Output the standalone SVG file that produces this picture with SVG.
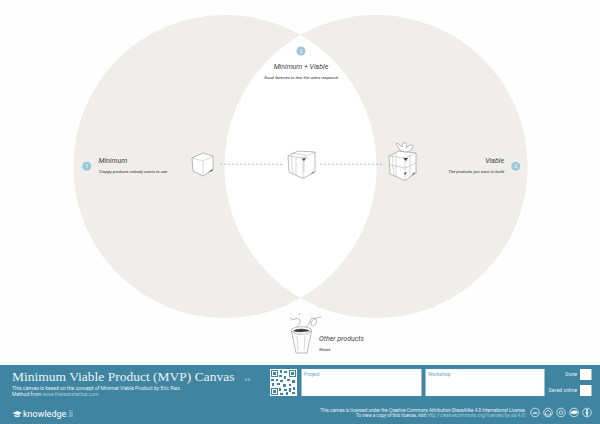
<svg xmlns="http://www.w3.org/2000/svg" width="600" height="424" viewBox="0 0 600 424">
<style>
.r{font-family:Roboto,"Liberation Sans",sans-serif}
.h{font-size:7px;font-style:italic;font-weight:400;fill:#444}
.s{font-size:4.2px;font-style:italic;fill:#333}
.n{fill:#9cc8da}
.nt{font-size:4.5px;fill:#fff;text-anchor:middle;font-family:Roboto,sans-serif}
.d{stroke:#7fbdd6;stroke-width:.8;stroke-dasharray:2.2 1.8;fill:none}
.i{fill:#fff;stroke:#777;stroke-width:.5;stroke-linejoin:round}
.l{fill:none;stroke:#999;stroke-width:.4}
.k{fill:#444}
.f{font-size:5.05px;fill:#e4f0f5}
.g{font-size:4.6px;fill:#e4f0f5}
.a{fill:#a3cbdb}
.w{fill:#fff;stroke:#8fbccd;stroke-width:.4;stroke-dasharray:1 1}
.b{font-size:5px;fill:#6fa5bb}
.c{fill:none;stroke:#fff;stroke-width:.7}
</style>
<rect width="600" height="424" fill="#fefefe"/>
<g id="venn">
<circle cx="225" cy="166.500" r="151.700" fill="#f0eeea"/>
<circle cx="376" cy="166.500" r="151.700" fill="#f0eeea"/>
<path d="M300.500 35A151.700 151.700 0 0 1 300.500 298A151.700 151.700 0 0 1 300.500 35Z" fill="#fff"/>
</g>
<g id="connectors">
<path class="d" d="M220 164.300H283"/>
<path class="d" d="M320 164.300H383"/>
</g>
<g id="node-minimum">
<circle class="n" cx="86.700" cy="166.300" r="4.500"/><text class="nt" x="86.700" y="167.800">1</text>
<text class="r h" x="98.500" y="163">Minimum</text>
<text class="r s" x="99" y="173">Crappy products nobody wants to use</text>
<path class="i" d="M192 158L203 153L213 156L213 170L203 176L193 171Z"/>
<path class="l" d="M192 158L203 161L213 156M203 161L203 176"/>
<path class="k" d="M208 172L213 169L212 171Z"/>
</g>
<g id="node-both">
<circle class="n" cx="301" cy="51" r="4.500"/><text class="nt" x="301" y="52.500">3</text>
<text class="r h" x="301" y="68.500" text-anchor="middle">Minimum + Viable</text>
<text class="r s" x="301" y="79" text-anchor="middle">Good features to test the users response</text>
<path class="i" d="M288 156L298 151L315 152L315 172L303 178.500L289 172Z"/>
<path class="l" d="M288 156L303 158L315 152M303 158L303 178M292 155C291 162 292 168 293 173M296 157V175"/>
<path class="l" d="M300 158H308M304 158V172M291 153L306 155"/>
<path class="k" d="M302 159L306 158L304 161ZM310 174L314.500 171L313 173Z"/>
</g>
<g id="node-viable">
<circle class="n" cx="515.700" cy="166.300" r="4.500"/><text class="nt" x="515.700" y="167.800">2</text>
<text class="r h" x="504" y="163" text-anchor="end">Viable</text>
<text class="r s" x="504" y="173" text-anchor="end">The products you want to build</text>
<path class="i" d="M389 156L399 151L416 153L416 173L405 180.500L390 174Z"/>
<path class="l" d="M389 156L405 158L416 153M405 158V180M390 165L405 168L416 163M396 153V177M410 155V177M393 154C392 162 393 168 394 175"/>
<path class="i" d="M400 150C394 142 396 141 402 147C402 141 408 141 406 148C411 143 416 144 411 150C407 153 403 152 400 150Z"/>
<path class="k" d="M403 158L408 158L406 161ZM404 173L407 172L405 175ZM411 175L415 172L414 174Z"/>
</g>
<g id="node-other">
<path class="i" d="M291.500 331L311.500 331L307 353L296 353Z"/>
<ellipse class="i" cx="301.500" cy="330.500" rx="10" ry="3.800"/>
<path class="k" d="M293 331C296 328 306 328 310 331C305 332 298 333 293 331Z"/>
<path class="l" d="M297 336L298 351M305 336L304 351"/>
<path d="M290 318C294 322 296 316 300 320C301 323 298 325 297 327M300 313L299 315M306 327C312 323 308 318 314 318C319 320 316 326 312 326C309 322 313 318 321 317" fill="none" stroke="#777" stroke-width=".5"/>
<text class="r h" x="319" y="341">Other products</text>
<text class="r s" x="319" y="351">Waste</text>
</g>
<g id="footer">
<rect y="365" width="600" height="59" fill="#3f85a1"/>
<text x="12" y="381" font-family="'Liberation Serif',serif" font-size="13.500" fill="#eaf3f6">Minimum Viable Product (MVP) Canvas</text>
<text class="r" x="244.500" y="381" font-size="4" fill="#cfe2ea">2.0</text>
<text class="r f" x="12" y="390">This canvas is based on the concept of Minimal Viable Product by Eric Ries.</text>
<text class="r f" x="12" y="396">Method from <tspan class="a">www.theleanstartup.com</tspan></text>
<path fill="#fff" d="M12.500 413L17.500 411L22 413L17.500 415ZM14.500 414.800L17.500 416L20 414.800V416.500L17.500 417L14.500 416.500Z"/>
<text class="r" x="23" y="416.500" font-size="9" fill="#fff">knowledge<tspan fill="#a3cbdb">.li</tspan></text>
<g id="qr">
<rect x="270" y="369" width="27" height="27" fill="#fff"/>
<path fill="#3f85a1" d="M271 370h7v7h-7zM289 370h7v7h-7zM271 388h7v7h-7z"/>
<path fill="#fff" d="M272 371h5v5h-5zM290 371h5v5h-5zM272 389h5v5h-5z"/>
<path fill="#3f85a1" d="M273 372h3v3h-3zM291 372h3v3h-3zM273 390h3v3h-3zM280 370h2v3h-2zM284 371h3v2h-3zM279 375h3v2h-3zM284 376h2v3h-2zM271 379h3v2h-3zM276 379h2v2h-2zM280 380h3v2h-3zM287 379h3v2h-3zM292 380h3v3h-3zM272 383h2v3h-2zM277 383h3v2h-3zM283 384h3v3h-3zM289 384h2v2h-2zM279 388h2v3h-2zM284 389h3v2h-3zM289 388h2v4h-2zM293 387h2v3h-2zM280 393h3v2h-3zM286 392h2v3h-2zM292 392h3v2h-3z"/>
</g>
<g id="field-project"><rect class="w" x="301.500" y="369" width="120" height="27"/><text class="r b" x="304" y="376">Project</text></g>
<g id="field-workshop"><rect class="w" x="425.500" y="369" width="119" height="27"/><text class="r b" x="428" y="376">Workshop</text></g>
<g id="field-done"><rect x="580" y="369" width="11.500" height="11" fill="#fff"/><text class="r f" x="577" y="376" text-anchor="end">Done</text></g>
<g id="field-saved"><rect x="580" y="385" width="11.500" height="11" fill="#fff"/><text class="r f" x="577" y="392" text-anchor="end">Saved online</text></g>
<text class="r g" x="526" y="412" text-anchor="end">This canvas is licensed under the Creative Commons Attribution-ShareAlike 4.0 International License.</text>
<text class="r g" x="526" y="417" text-anchor="end">To view a copy of this license, visit <tspan class="a">http://creativecommons.org/licenses/by-sa/4.0/</tspan></text>
<g id="cc-icons">
<circle class="c" cx="535" cy="412.500" r="4.300"/><circle class="c" cx="548" cy="412.500" r="4.300"/><circle class="c" cx="561" cy="412.500" r="4.300"/><circle class="c" cx="574" cy="412.500" r="4.300"/><circle class="c" cx="587" cy="412.500" r="4.300"/>
<text x="535" y="414" font-size="4" font-weight="700" fill="#fff" text-anchor="middle" font-family="Roboto,sans-serif">cc</text>
<path class="c" d="M545.500 412.500L548 410L550.500 412.500V415H545.500Z"/>
<circle class="c" cx="561" cy="412.500" r="1.800"/>
<path fill="#fff" d="M570.500 413C571 410 577 409.500 577.500 412.500C576 414.500 572 414.500 570.500 413Z"/>
<circle cx="587" cy="410" r="1" fill="#fff"/><path fill="#fff" d="M585.700 411.500h2.600v2h-.7v2.500h-1.200v-2.500h-.7Z"/>
</g>
</g>
</svg>
